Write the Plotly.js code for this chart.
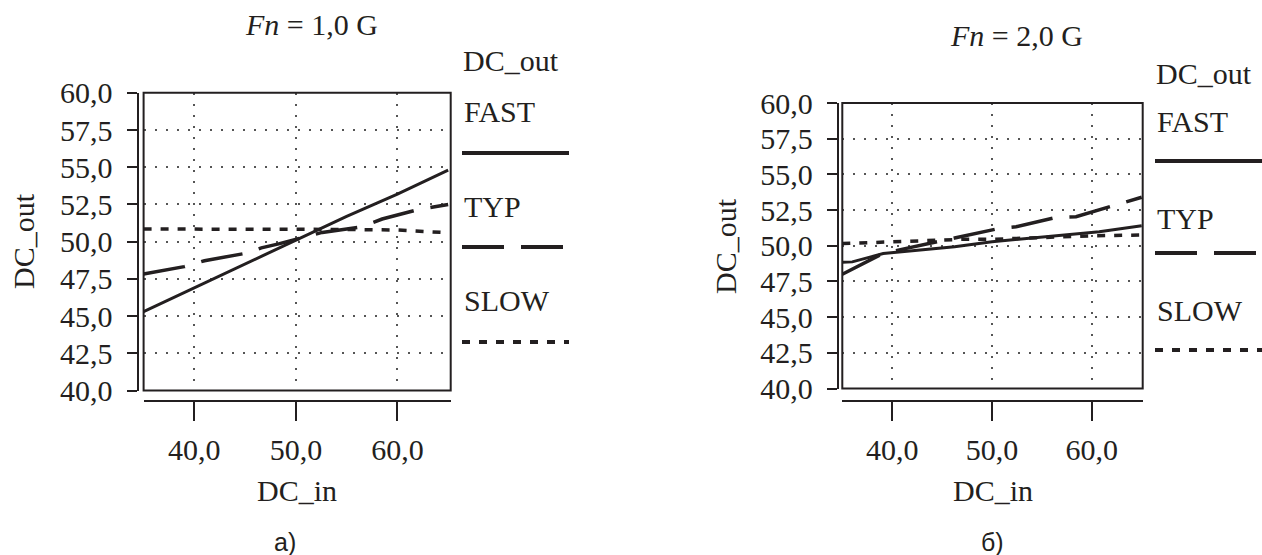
<!DOCTYPE html>
<html><head><meta charset="utf-8">
<script src="https://cdn.plot.ly/plotly-3.0.1.min.js"></script>
<style>html,body{margin:0;padding:0;background:#fff;}#chart{width:1262px;height:555px;}</style>
</head><body><div id="chart"></div>
<script>
// Panel а) Fn = 1,0 G
const fastA_x = [35, 40, 45, 50, 55, 60, 65];
const fastA_y = [45.3, 46.9, 48.5, 50.1, 51.7, 53.2, 54.8];
const typA_x = [35, 39, 41, 45, 46.6, 48.3, 52.6, 56.5, 58.5, 61.9, 65];
const typA_y = [47.83, 48.32, 48.72, 49.21, 49.58, 49.85, 50.62, 51.0, 51.52, 52.13, 52.5];
const slowA_x = [35, 45, 55, 60, 65];
const slowA_y = [50.85, 50.85, 50.82, 50.78, 50.6];
// Panel б) Fn = 2,0 G
const fastB_x = [35, 36, 39.1, 46.25, 50, 60.75, 65];
const fastB_y = [48.85, 48.87, 49.45, 49.93, 50.28, 50.98, 51.4];
const typB_x = [35, 39.1, 46.25, 50.75, 52.42, 56.42, 58.42, 60.75, 65];
const typB_y = [48.0, 49.47, 50.54, 51.22, 51.33, 51.99, 52.03, 52.5, 53.4];
const slowB_x = [35, 40, 47, 50, 60, 65];
const slowB_y = [50.15, 50.3, 50.45, 50.45, 50.7, 50.75];

const xTickVals = [40, 50, 60];
const xTickText = ['40,0', '50,0', '60,0'];
const yTickVals = [40, 42.5, 45, 47.5, 50, 52.5, 55, 57.5, 60];
const yTickText = ['40,0', '42,5', '45,0', '47,5', '50,0', '52,5', '55,0', '57,5', '60,0'];
const seriesNames = ['FAST', 'TYP', 'SLOW'];
const legendTitle = 'DC_out';
const xTitle = 'DC_in';
const yTitle = 'DC_out';
const panelTitles = ['<i>Fn</i> = 1,0 G', '<i>Fn</i> = 2,0 G'];
const panelLabels = ['а)', 'б)'];

const W = 1262, H = 555;
const INK = '#231f20';
const SERIF = 'Liberation Serif, Times New Roman, serif';
const SANS = 'Liberation Sans, Arial, sans-serif';
const px = v => v / W;
const py = v => 1 - v / H;

const styles = {
  FAST: {color: INK, width: 3, dash: 'solid'},
  TYP:  {color: INK, width: 3.5, dash: '42px,17px'},
  SLOW: {color: INK, width: 3.5, dash: '8px,9px'}
};

const panels = [
  {xa: 'x', ya: 'y', series: [[fastA_x, fastA_y], [typA_x, typA_y], [slowA_x, slowA_y]]},
  {xa: 'x2', ya: 'y2', series: [[fastB_x, fastB_y], [typB_x, typB_y], [slowB_x, slowB_y]]}
];

const traces = [];
panels.forEach(p => {
  p.series.forEach((s, i) => {
    traces.push({x: s[0], y: s[1], xaxis: p.xa, yaxis: p.ya, type: 'scatter', mode: 'lines',
      name: seriesNames[i], showlegend: false, hoverinfo: 'skip', line: styles[seriesNames[i]]});
  });
});

function xAxis(domain, range, posY) {
  return {domain, range, anchor: 'free', position: posY, tickvals: xTickVals, ticktext: xTickText,
    ticks: 'outside', ticklen: 19, tickwidth: 2, tickcolor: INK, showline: true, linewidth: 2, linecolor: INK,
    showgrid: true, gridcolor: '#555', gridwidth: 2, griddash: '2px,9px', zeroline: false,
    tickfont: {family: SERIF, size: 30, color: INK}, ticklabelstandoff: 3, fixedrange: true};
}
function yAxis(domain, posX) {
  return {domain, range: [40, 60], anchor: 'free', position: posX, tickvals: yTickVals, ticktext: yTickText,
    ticks: 'outside', ticklen: 10, tickwidth: 2, tickcolor: INK, showline: true, linewidth: 2, linecolor: INK,
    showgrid: true, gridcolor: '#555', gridwidth: 2, griddash: '2px,9px', zeroline: false,
    tickfont: {family: SERIF, size: 30, color: INK}, ticklabelstandoff: 8, fixedrange: true};
}

// geometry (pixels)
const geo = [
  {bx0: 143.6, bx1: 450.7, by0: 92.8, by1: 390.5, xr: [35, 65.25], yax: 137.5, xay: 401,
   title: [311, 25], xt: [297, 490], yt: [23, 241], lab: [285, 542],
   leg: {x: 461, t: 60, items: [112, 207, 300], lines: [153, 247, 342], lx0: 462, lx1: 569}},
  {bx0: 842.3, bx1: 1142.7, by0: 103, by1: 388.5, xr: [35, 65.1], yax: 837.7, xay: 401,
   title: [1016, 35], xt: [993, 490], yt: [725, 246], lab: [992, 542],
   leg: {x: 1154, t: 74, items: [122, 218, 310], lines: [161, 253, 350], lx0: 1155, lx1: 1262}}
];

const layout = {
  width: W, height: H, autosize: false, margin: {l: 0, r: 0, t: 0, b: 0},
  paper_bgcolor: '#fff', plot_bgcolor: '#fff', showlegend: false,
  font: {family: SERIF, color: INK, size: 30},
  xaxis: xAxis([px(geo[0].bx0), px(geo[0].bx1)], geo[0].xr, py(geo[0].xay)),
  yaxis: yAxis([py(geo[0].by1), py(geo[0].by0)], px(geo[0].yax)),
  xaxis2: xAxis([px(geo[1].bx0), px(geo[1].bx1)], geo[1].xr, py(geo[1].xay)),
  yaxis2: yAxis([py(geo[1].by1), py(geo[1].by0)], px(geo[1].yax)),
  shapes: [], annotations: []
};

const ann = (text, x, y, opts) => Object.assign({text, x: px(x), y: py(y), xref: 'paper', yref: 'paper',
  showarrow: false, xanchor: 'center', yanchor: 'middle', font: {family: SERIF, size: 30, color: INK}}, opts || {});

geo.forEach((g, k) => {
  const xr = k === 0 ? 'x' : 'x2', yr = k === 0 ? 'y' : 'y2';
  layout.shapes.push({type: 'rect', xref: xr + ' domain', yref: yr + ' domain', x0: 0, x1: 1, y0: 0, y1: 1,
    line: {color: INK, width: 2}, layer: 'above'});
  layout.annotations.push(ann(panelTitles[k], g.title[0], g.title[1]));
  layout.annotations.push(ann(xTitle, g.xt[0], g.xt[1]));
  layout.annotations.push(ann(yTitle, g.yt[0], g.yt[1], {textangle: -90}));
  layout.annotations.push(ann(panelLabels[k], g.lab[0], g.lab[1], {font: {family: SANS, size: 25, color: INK}}));
  layout.annotations.push(ann(legendTitle, g.leg.x, g.leg.t, {xanchor: 'left'}));
  seriesNames.forEach((n, i) => {
    layout.annotations.push(ann(n, g.leg.x + 1, g.leg.items[i], {xanchor: 'left'}));
    const st = styles[n];
    layout.shapes.push({type: 'line', xref: 'paper', yref: 'paper', x0: px(g.leg.lx0), x1: px(g.leg.lx1),
      y0: py(g.leg.lines[i]), y1: py(g.leg.lines[i]), line: {color: INK, width: 4, dash: st.dash}});
  });
});

Plotly.newPlot('chart', traces, layout, {staticPlot: true, displayModeBar: false});
</script>
</body></html>
